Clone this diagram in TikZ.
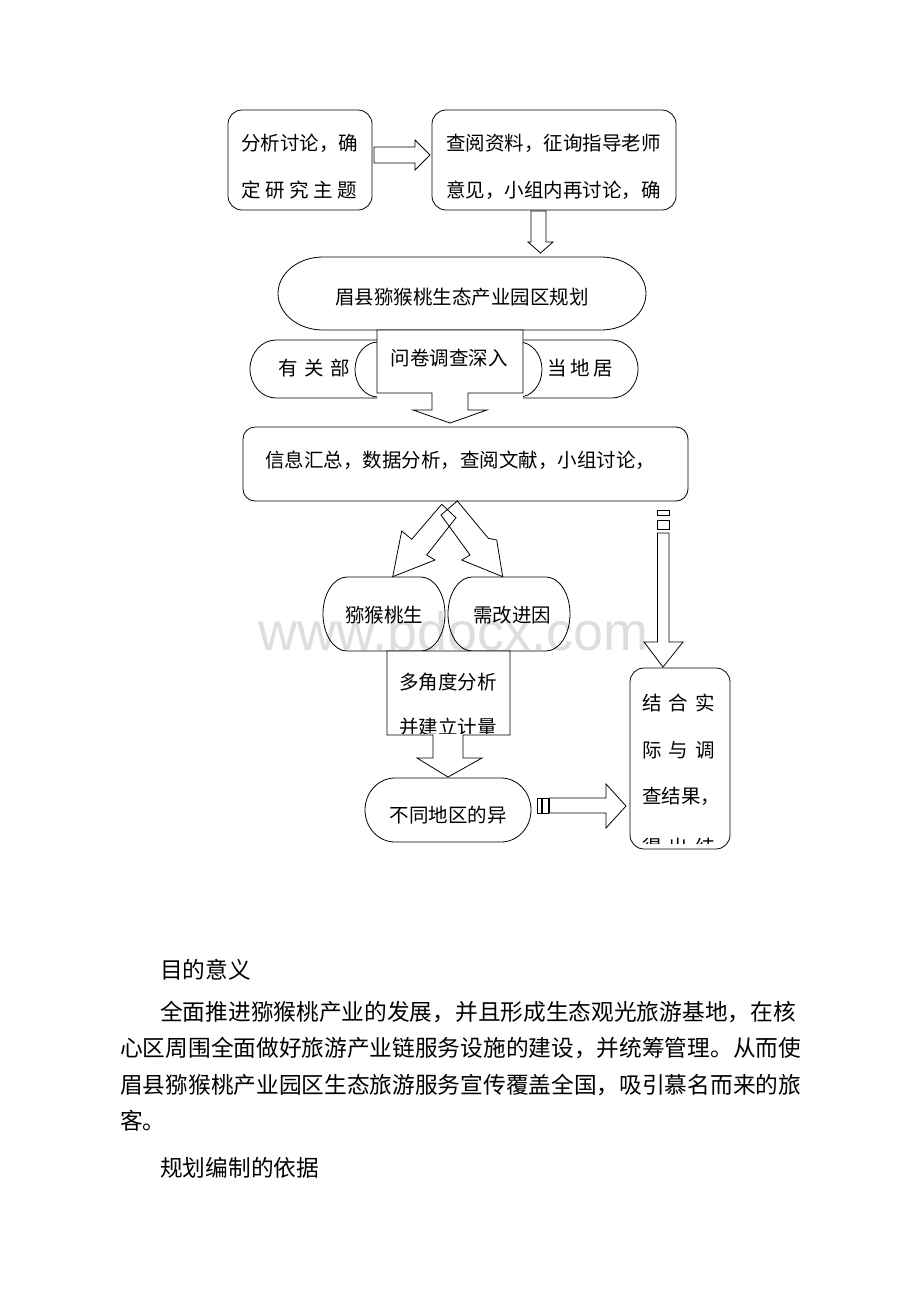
\documentclass[tikz,border=0pt]{standalone}
\usepackage{fontspec}
\setmainfont{Noto Sans CJK SC}
\newfontfamily\wmfont{Liberation Sans}
\usetikzlibrary{calc}
\tikzset{
 line/.style={line width=0.8pt, line join=miter},
 lbl/.style={inner sep=0pt, font=\fontsize{19.5}{20}\selectfont},
 para/.style={inner sep=0pt, anchor=west, font=\fontsize{22.7}{23}\selectfont},
 rbox/.style={draw, line width=0.8pt, rounded corners=14pt, inner sep=0pt},
 blockarrow/.style={draw, line width=0.8pt, fill=white, line join=miter},
 openarrow/.style={draw, line width=0.8pt, line join=miter},
}
% stadium with elliptical ends: x1, ytop, x2, ybottom, x radius
\newcommand\stadiumshape[5]{%
 \draw[line] ({#1+#5},#2) -- ({#3-#5},#2)
   arc[start angle=90,end angle=-90,x radius=#5,y radius={((#2)-(#4))/2}]
   -- ({#1+#5},#4)
   arc[start angle=270,end angle=90,x radius=#5,y radius={((#2)-(#4))/2}] -- cycle;}
\begin{document}
\begin{tikzpicture}[x=1pt,y=1pt]
\fill[white] (0,0) rectangle (920,-1302);
\useasboundingbox (0,0) rectangle (920,-1302);

% watermark
\node[inner sep=0pt, anchor=base west, text=black!13, font=\wmfont\fontsize{54}{54}\selectfont] (wm) at (258,-650) {www.bdocx.com};

% top boxes
\node[rbox, minimum width=144pt, minimum height=100pt] (boxA) at (300,-160) {};
\node[rbox, minimum width=244pt, minimum height=100pt] (boxB) at (554,-160) {};
\node[lbl,anchor=west] (tA1) at (241,-143) {分析讨论，确};
\node[lbl,anchor=west] (tA2) at (241,-190) {\makebox[116pt][s]{定\hfill 研\hfill 究\hfill 主\hfill 题}};
\node[lbl,anchor=west] (tB1) at (446,-143) {查阅资料，征询指导老师};
\node[lbl,anchor=west] (tB2) at (446,-190) {意见，小组内再讨论，确};

% arrow A -> B
\draw[blockarrow] (374,-147) -- (415,-147) -- (415,-140) -- (430,-155) -- (415,-170) -- (415,-163) -- (374,-163) -- cycle;
% arrow B -> title
\draw[blockarrow] (531,-211) -- (546,-211) -- (546,-242) -- (553,-242) -- (540.5,-253) -- (528,-242) -- (531,-242) -- cycle;

% title stadium
\stadiumshape{278}{-257}{646}{-330}{45}
\node[lbl] (tM) at (462,-297) {眉县猕猴桃生态产业园区规划};

% second row stadiums (partly hidden behind the callout)
\begin{scope}
\clip (0,-330) rectangle (377,-420) (523,-330) rectangle (920,-420);
\stadiumshape{250}{-340}{440}{-398}{26}
\stadiumshape{470}{-340}{638}{-398}{26}
\stadiumshape{355}{-342}{542}{-397}{23}
\end{scope}
\node[lbl,anchor=west] (tL) at (278,-368) {\makebox[72pt][s]{有\hfill 关\hfill 部}};
\node[lbl,anchor=west] (tR) at (547,-368) {\makebox[66pt][s]{当\hfill 地\hfill 居}};

% questionnaire callout
\draw[blockarrow] (377,-330) -- (523,-330) -- (523,-393) -- (468,-393) -- (468,-410) -- (487,-410)
  -- (450,-423) -- (413,-410) -- (432,-410) -- (432,-393) -- (377,-393) -- cycle;
\node[lbl] (tQ) at (449,-358) {问卷调查深入};

% info box
\node[rbox, rounded corners=12pt, minimum width=445pt, minimum height=74pt] (info) at (465.5,-464) {};
\node[lbl,anchor=west] (tI) at (265,-460) {信息汇总，数据分析，查阅文献，小组讨论，};

% crossing arrows
\draw[openarrow] (392.7,-576.7) -- (401.7,-531) -- (411.7,-539.3) -- (441.7,-504.3) -- (456,-517.7)
  -- (426.7,-555) -- (435,-560) -- cycle;
\draw[openarrow] (441,-515) -- (457.3,-501) -- (488.3,-538.3) -- (496.7,-540) -- (502.7,-576.7)
  -- (461.7,-560) -- (470,-555) -- cycle;

% small stadiums
\stadiumshape{323}{-577}{445}{-651}{24}
\stadiumshape{448}{-577}{570}{-651}{24}
\node[lbl] (tK) at (384,-615) {猕猴桃生};
\node[lbl] (tX) at (512,-615) {需改进因};

% analysis callout
\draw[blockarrow] (387,-651) -- (510,-651) -- (510,-735) -- (463,-735) -- (463,-758) -- (482,-758)
  -- (448,-777) -- (417,-758) -- (433,-758) -- (433,-735) -- (387,-735) -- cycle;
\node[lbl] (tD1) at (448,-682) {多角度分析};
\begin{scope}
\clip (387,-651) rectangle (510,-733);
\node[lbl] (tD2) at (448,-727) {并建立计量};
\end{scope}

% bottom stadium
\stadiumshape{365}{-778}{531}{-842}{30}
\node[lbl] (tU) at (448,-815) {不同地区的异};

% striped arrow to right box
\draw[line] (537,-798) rectangle (541,-813);
\draw[line] (542.5,-798) rectangle (548,-813);
\draw[blockarrow] (549.5,-798) -- (606,-798) -- (606,-784) -- (626,-806) -- (606,-828) -- (606,-813) -- (549.5,-813) -- cycle;

% vertical striped arrow on right
\draw[line] (657.5,-510) rectangle (669,-515);
\draw[line] (657.5,-520) rectangle (669,-529);
\draw[blockarrow] (657.5,-533) -- (669,-533) -- (669,-642) -- (683,-642) -- (663,-667) -- (644,-642) -- (657.5,-642) -- cycle;

% right box
\node[rbox, minimum width=100pt, minimum height=181pt] (rbox) at (680,-758.5) {};
\node[lbl,anchor=west] (tJ1) at (642,-703) {\makebox[73pt][s]{结\hfill 合\hfill 实}};
\node[lbl,anchor=west] (tJ2) at (642,-750) {\makebox[73pt][s]{际\hfill 与\hfill 调}};
\node[lbl,anchor=west] (tJ3) at (642,-796) {查结果，};
\begin{scope}
\clip (631,-668) rectangle (729,-843);
\node[lbl,anchor=west] (tJ4) at (642,-847) {\makebox[73pt][s]{得\hfill 出\hfill 结}};
\end{scope}

% paragraph text
\node[para] (h1) at (160,-970) {目的意义};
\node[para] (p1) at (160,-1012) {全面推进猕猴桃产业的发展，并且形成生态观光旅游基地，在核};
\node[para] (p2) at (120,-1048) {心区周围全面做好旅游产业链服务设施的建设，并统筹管理。从而使};
\node[para] (p3) at (120,-1085) {眉县猕猴桃产业园区生态旅游服务宣传覆盖全国，吸引慕名而来的旅};
\node[para] (p4) at (120,-1121) {客。};
\node[para] (h2) at (160,-1168) {规划编制的依据};
\end{tikzpicture}
\end{document}
